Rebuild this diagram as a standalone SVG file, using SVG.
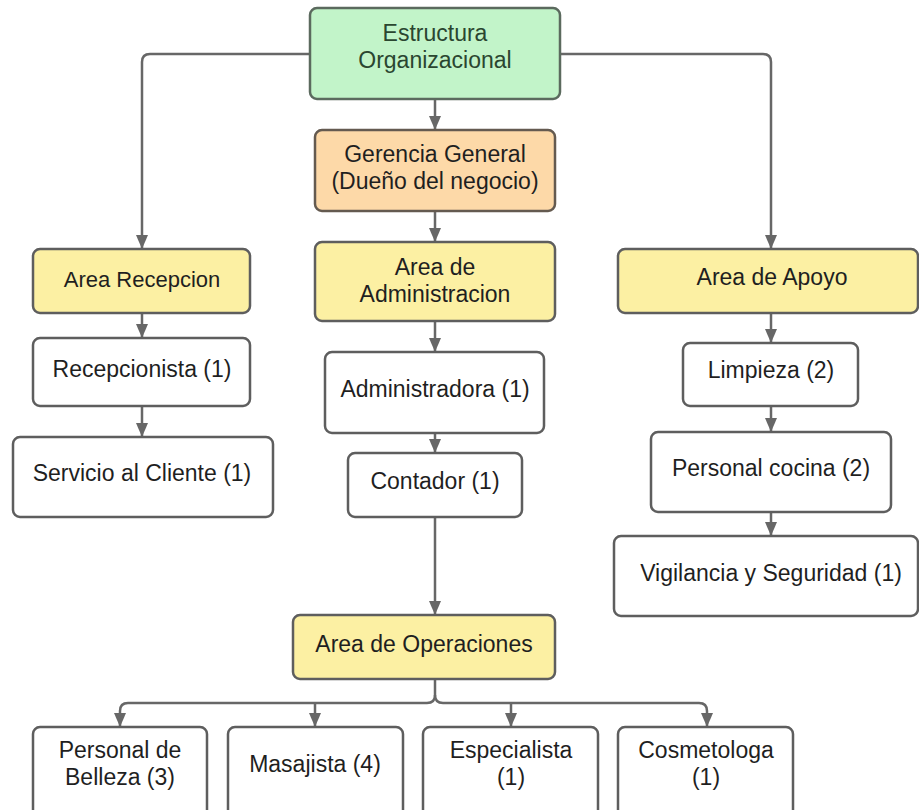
<svg xmlns="http://www.w3.org/2000/svg" width="919" height="810" viewBox="0 0 919 810">
<style>
.box{stroke:#5e5e5e;stroke-width:2.5;}
.w{fill:#ffffff;}
.y{fill:#fcf0a3;}
.g{fill:#c2f4c9;stroke:#5b6a5e;}
.o{fill:#fdd9a8;stroke:#645a50;}
text{font-family:"Liberation Sans",Arial,sans-serif;font-size:23px;fill:#1f1f1f;text-anchor:middle;}
.gt{fill:#2a4630;}
.c{fill:none;stroke:#676767;stroke-width:2.5;}
</style>
<defs>
<marker id="ah" viewBox="0 0 14 12" refX="13" refY="6" markerWidth="14" markerHeight="12" markerUnits="userSpaceOnUse" orient="auto">
<path d="M0,0 L14,6 L0,12 Z" fill="#676767"/>
</marker>
</defs>
<rect width="919" height="810" fill="#ffffff"/>
<g id="connectors">
<path class="c" d="M435,99 V129" marker-end="url(#ah)"/>
<path class="c" d="M435,211 V241" marker-end="url(#ah)"/>
<path class="c" d="M310,54 H150 Q142,54 142,62 V248" marker-end="url(#ah)"/>
<path class="c" d="M560,54 H763 Q771,54 771,62 V248" marker-end="url(#ah)"/>
<path class="c" d="M142,313 V337" marker-end="url(#ah)"/>
<path class="c" d="M142,406 V436" marker-end="url(#ah)"/>
<path class="c" d="M435,321 V351" marker-end="url(#ah)"/>
<path class="c" d="M435,433 V452" marker-end="url(#ah)"/>
<path class="c" d="M435,517 V614" marker-end="url(#ah)"/>
<path class="c" d="M771,313 V342" marker-end="url(#ah)"/>
<path class="c" d="M771,406 V431" marker-end="url(#ah)"/>
<path class="c" d="M771,512 V535" marker-end="url(#ah)"/>
<path class="c" d="M435,679 V695 Q435,703 427,703 H128 Q120,703 120,711 V726" marker-end="url(#ah)"/>
<path class="c" d="M435,695 Q435,703 443,703 H699 Q707,703 707,711 V726" marker-end="url(#ah)"/>
<path class="c" d="M315,703 V726" marker-end="url(#ah)"/>
<path class="c" d="M511,703 V726" marker-end="url(#ah)"/>
</g>
<g id="n-estructura">
<rect class="box g" x="310" y="8" width="250" height="91" rx="7"/>
<text class="gt" x="435" y="41">Estructura</text>
<text class="gt" x="435" y="68">Organizacional</text>
</g>
<g id="n-gerencia">
<rect class="box o" x="315" y="130" width="240" height="81" rx="7"/>
<text x="435" y="162">Gerencia General</text>
<text x="435" y="189">(Dueño del negocio)</text>
</g>
<g id="n-recepcion">
<rect class="box y" x="33" y="249" width="217" height="64" rx="7"/>
<text x="142" y="287" style="font-size:22px">Area Recepcion</text>
</g>
<g id="n-administracion">
<rect class="box y" x="315" y="242" width="240" height="79" rx="7"/>
<text x="435" y="275">Area de</text>
<text x="435" y="302">Administracion</text>
</g>
<g id="n-apoyo">
<rect class="box y" x="618" y="249" width="300" height="64" rx="7"/>
<text x="772" y="285">Area de Apoyo</text>
</g>
<g id="n-recepcionista">
<rect class="box w" x="33" y="338" width="217" height="68" rx="7"/>
<text x="142" y="377">Recepcionista (1)</text>
</g>
<g id="n-servicio">
<rect class="box w" x="13" y="437" width="260" height="80" rx="7"/>
<text x="142" y="481">Servicio al Cliente (1)</text>
</g>
<g id="n-administradora">
<rect class="box w" x="325" y="352" width="219" height="81" rx="7"/>
<text x="435" y="397">Administradora (1)</text>
</g>
<g id="n-contador">
<rect class="box w" x="348" y="453" width="174" height="64" rx="7"/>
<text x="435" y="489">Contador (1)</text>
</g>
<g id="n-limpieza">
<rect class="box w" x="683" y="343" width="175" height="63" rx="7"/>
<text x="771" y="378">Limpieza (2)</text>
</g>
<g id="n-cocina">
<rect class="box w" x="651" y="432" width="240" height="80" rx="7"/>
<text x="771" y="476">Personal cocina (2)</text>
</g>
<g id="n-vigilancia">
<rect class="box w" x="614" y="536" width="304" height="80" rx="7"/>
<text x="771" y="581">Vigilancia y Seguridad (1)</text>
</g>
<g id="n-operaciones">
<rect class="box y" x="293" y="615" width="262" height="64" rx="7"/>
<text x="424" y="652">Area de Operaciones</text>
</g>
<g id="n-belleza">
<rect class="box w" x="33" y="727" width="174" height="95" rx="7"/>
<text x="120" y="758">Personal de</text>
<text x="120" y="785">Belleza (3)</text>
</g>
<g id="n-masajista">
<rect class="box w" x="228" y="727" width="175" height="95" rx="7"/>
<text x="315" y="772">Masajista (4)</text>
</g>
<g id="n-especialista">
<rect class="box w" x="423" y="727" width="175" height="95" rx="7"/>
<text x="511" y="758">Especialista</text>
<text x="511" y="785">(1)</text>
</g>
<g id="n-cosmetologa">
<rect class="box w" x="618" y="727" width="175" height="95" rx="7"/>
<text x="706" y="758">Cosmetologa</text>
<text x="706" y="785">(1)</text>
</g>
</svg>
